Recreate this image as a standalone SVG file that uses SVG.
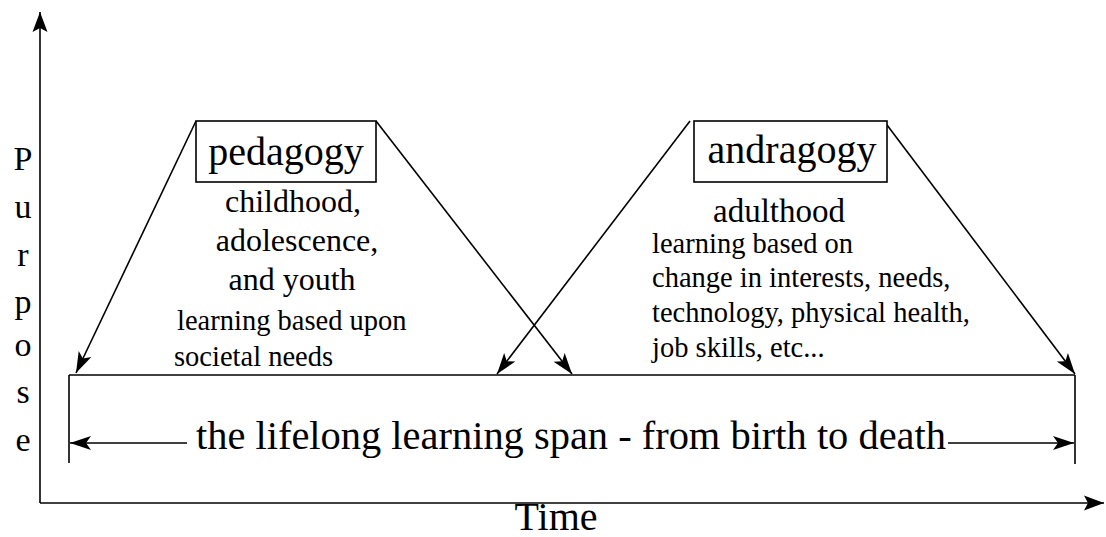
<svg xmlns="http://www.w3.org/2000/svg" width="1106" height="537" viewBox="0 0 1106 537">
<style>
text{font-family:Liberation Serif,Noto Serif,DejaVu Serif,FreeSerif,Times,serif;fill:#000}
.ln{stroke:#000;stroke-width:1.6;fill:none}
.box{stroke:#000;stroke-width:1.6;fill:#fff}
.big{font-size:40px}
.mid{font-size:32px}
.sm{font-size:28.5px}
.ax{font-size:34px}
</style>
<defs>
<marker id="ah" markerUnits="userSpaceOnUse" markerWidth="26" markerHeight="18" viewBox="-22 -9 24 18" refX="0" refY="0" orient="auto">
<path d="M0,0 L-21,-7 L-16,0 L-21,7 Z" fill="#000"/>
</marker>
<marker id="ax" markerUnits="userSpaceOnUse" markerWidth="26" markerHeight="20" viewBox="-22 -10 24 20" refX="0" refY="0" orient="auto">
<path d="M0,0 L-20,-7.5 L-16,0 L-20,7.5 Z" fill="#000"/>
</marker>
</defs>
<g id="axes">
<line class="ln" x1="40" y1="503" x2="40" y2="12" marker-end="url(#ax)"/>
<line class="ln" x1="40" y1="503" x2="1104" y2="503" marker-end="url(#ax)"/>
<g class="ax">
<text x="23" y="170" text-anchor="middle">P</text>
<text x="23" y="218" text-anchor="middle">u</text>
<text x="23" y="266" text-anchor="middle">r</text>
<text x="23" y="313" text-anchor="middle">p</text>
<text x="23" y="356" text-anchor="middle">o</text>
<text x="23" y="403" text-anchor="middle">s</text>
<text x="23" y="451" text-anchor="middle">e</text>
</g>
<text class="big" x="556" y="530" text-anchor="middle">Time</text>
</g>
<g id="span">
<line class="ln" x1="69" y1="375" x2="1075" y2="375"/>
<line class="ln" x1="69" y1="375" x2="69" y2="463"/>
<line class="ln" x1="1075" y1="375" x2="1075" y2="464"/>
<text class="big" x="196" y="449" textLength="750" lengthAdjust="spacingAndGlyphs">the lifelong learning span - from birth to death</text>
</g>
<g id="connectors">
<line class="ln" x1="196" y1="121" x2="76" y2="373" marker-end="url(#ah)"/>
<line class="ln" x1="376" y1="121" x2="572" y2="374" marker-end="url(#ah)"/>
<line class="ln" x1="690" y1="121" x2="497" y2="374" marker-end="url(#ah)"/>
<line class="ln" x1="884" y1="121" x2="1075" y2="374" marker-end="url(#ah)"/>
<line class="ln" x1="187" y1="443" x2="70" y2="443" marker-end="url(#ah)"/>
<line class="ln" x1="948" y1="443" x2="1074" y2="443" marker-end="url(#ah)"/>
</g>
<g id="pedagogy">
<rect class="box" x="196" y="121" width="180" height="61"/>
<text class="big" x="286" y="165" text-anchor="middle">pedagogy</text>
<text class="mid" x="293" y="212" text-anchor="middle">childhood,</text>
<text class="mid" x="297" y="251" text-anchor="middle">adolescence,</text>
<text class="mid" x="292" y="290" text-anchor="middle">and youth</text>
<text class="sm" x="177" y="330">learning based upon</text>
<text class="sm" x="174" y="366">societal needs</text>
</g>
<g id="andragogy">
<rect class="box" x="694" y="121" width="193" height="61"/>
<text class="big" x="792" y="163" text-anchor="middle">andragogy</text>
<text class="mid" x="779" y="222" text-anchor="middle" style="font-size:33px">adulthood</text>
<text class="sm" x="652" y="253">learning based on</text>
<text class="sm" x="652" y="287">change in interests, needs,</text>
<text class="sm" x="652" y="322">technology, physical health,</text>
<text class="sm" x="652" y="357">job skills, etc...</text>
</g>
</svg>
